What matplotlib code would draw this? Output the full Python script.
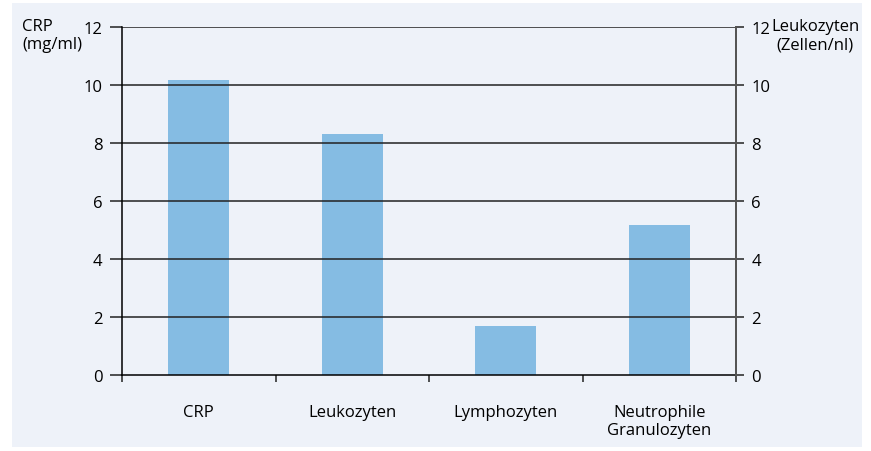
import matplotlib.pyplot as plt
import matplotlib.patches as patches
import numpy as np

categories = ['CRP', 'Leukozyten', 'Lymphozyten', 'Neutrophile\nGranulozyten']
values = [10.17, 8.31, 1.69, 5.17]
yticks = [0, 2, 4, 6, 8, 10, 12]

bg = '#eef2f9'
bar_color = '#85bce3'

plt.rcParams['font.family'] = ['Open Sans', 'DejaVu Sans']
plt.rcParams['font.size'] = 12

fig = plt.figure(figsize=(8.71, 4.52), dpi=100)
fig.patch.set_facecolor('white')
fig.patches.append(patches.Rectangle((12 / 871, 4 / 452), 850 / 871, 444 / 452,
                                     transform=fig.transFigure, facecolor=bg,
                                     edgecolor='none', zorder=-5))

ax = fig.add_axes([122 / 871, 76 / 452, 614 / 871, 348 / 452])
ax.set_facecolor(bg)

x = np.arange(len(categories))
ax.bar(x, values, width=0.4, color=bar_color, zorder=1)
ax.set_xlim(-0.5, len(categories) - 0.5)
ax.set_ylim(0, 12)
ax.set_yticks(yticks)
for t in yticks[1:]:
    ax.axhline(t, color='#222222', lw=1.1, zorder=2)

ax.spines['top'].set_visible(False)
ax.spines['left'].set_color('black')
ax.spines['bottom'].set_color('black')
ax.spines['right'].set_color('#555555')
ax.spines['left'].set_linewidth(1.1)
ax.spines['bottom'].set_linewidth(1.1)
ax.spines['right'].set_linewidth(1.4)

ax.set_xticks(x)
ax.set_xticklabels(categories, linespacing=1.15)
ax.tick_params(axis='x', length=0, pad=21)
ax.set_xticks(np.arange(-0.5, len(categories), 1), minor=True)
ax.tick_params(axis='x', which='minor', length=5, width=1.1, direction='out', color='#222222')
ax.tick_params(axis='y', length=9, width=1.1, direction='out', pad=5, color='#222222')

ax2 = ax.twinx()
ax2.set_ylim(0, 12)
ax2.set_yticks(yticks)
ax2.tick_params(axis='y', length=6, width=1.1, direction='out', pad=5, color='#222222')
for s in ['top', 'left', 'bottom']:
    ax2.spines[s].set_visible(False)
ax2.spines['right'].set_color('#555555')
ax2.spines['right'].set_linewidth(1.4)

fig.text(22 / 871, 1 - 19 / 452, 'CRP\n(mg/ml)', ha='left', va='top', linespacing=1.2)
fig.text(815 / 871, 1 - 19 / 452, 'Leukozyten\n(Zellen/nl)', ha='center', va='top', linespacing=1.2)

fig.savefig('out.png', dpi=100, facecolor='white')
